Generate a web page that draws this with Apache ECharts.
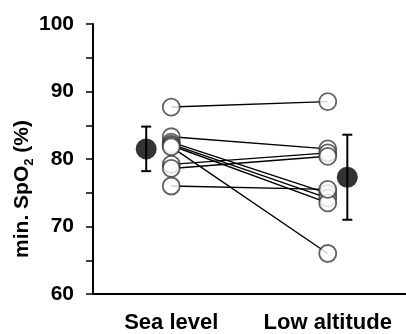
<!DOCTYPE html>
<html>
<head>
<meta charset="utf-8">
<script src="https://cdn.jsdelivr.net/npm/echarts@6/dist/echarts.min.js"></script>
<style>
  html, body { margin: 0; padding: 0; background: #fff; }
  #chart { width: 406px; height: 334px; }
</style>
</head>
<body>
<div id="chart"></div>
<script>
// categories and per-subject values (min SpO2, %)
var categories = ["Sea level", "Low altitude"];
var seaLevel = [87.7, 83.3, 82.5, 82.2, 82.0, 81.8, 79.2, 78.6, 76.0];
var lowAltitude = [88.5, 81.5, 74.9, 74.2, 73.5, 66.0, 80.9, 80.4, 75.5];
// group means and SD
var means = [81.5, 77.3];
var sds = [3.3, 6.3];
var meanPos = [0.84, 2.125]; // means drawn beside each column
var yTicks = [60, 70, 80, 90, 100];

var chart = echarts.init(document.getElementById("chart"), null, { renderer: "canvas" });

var font = "'Liberation Sans', Arial, sans-serif";
var series = [];

// one line per subject
for (var i = 0; i < seaLevel.length; i++) {
  series.push({
    type: "line",
    xAxisIndex: 1,
    data: [[1, seaLevel[i]], [2, lowAltitude[i]]],
    symbol: "none",
    lineStyle: { color: "#000", width: 1.4 },
    z: 2,
    silent: true
  });
}

// open circles for individual values
var pts = [];
for (var j = 0; j < seaLevel.length; j++) {
  pts.push([1, seaLevel[j]]);
  pts.push([2, lowAltitude[j]]);
}
series.push({
  type: "scatter",
  xAxisIndex: 1,
  data: pts,
  symbol: "circle",
  symbolSize: 17,
  itemStyle: {
    color: "#fff",
    borderColor: "#3a3a3a",
    borderWidth: 1.8
  },
  z: 3
});

// error bars (mean ± SD)
series.push({
  type: "custom",
  xAxisIndex: 1,
  data: means.map(function (m, k) { return [meanPos[k], m - sds[k], m + sds[k]]; }),
  renderItem: function (params, api) {
    var lo = api.coord([api.value(0), api.value(1)]);
    var hi = api.coord([api.value(0), api.value(2)]);
    var cw = 5;
    var st = { stroke: "#000", lineWidth: 2 };
    return {
      type: "group",
      children: [
        { type: "line", shape: { x1: lo[0], y1: lo[1], x2: hi[0], y2: hi[1] }, style: st },
        { type: "line", shape: { x1: lo[0] - cw, y1: lo[1], x2: lo[0] + cw, y2: lo[1] }, style: st },
        { type: "line", shape: { x1: hi[0] - cw, y1: hi[1], x2: hi[0] + cw, y2: hi[1] }, style: st }
      ]
    };
  },
  z: 4
});

// mean markers
series.push({
  type: "scatter",
  xAxisIndex: 1,
  data: means.map(function (m, k) { return [meanPos[k], m]; }),
  symbol: "circle",
  symbolSize: 21,
  itemStyle: { color: "#000" },
  z: 5
});

chart.setOption({
  animation: false,
  backgroundColor: "#fff",
  textStyle: { fontFamily: font },
  grid: { left: 93, right: -7, top: 24, bottom: 39 },
  xAxis: [
    {
      type: "category",
      data: categories,
      boundaryGap: true,
      axisLine: { lineStyle: { color: "#000", width: 2 } },
      axisTick: { inside: true, length: 4, alignWithLabel: true, lineStyle: { color: "#000", width: 1.5 } },
      axisLabel: { interval: 0, color: "#000", fontSize: 22, fontWeight: "bold", fontFamily: font, margin: 18 },
      splitLine: { show: false }
    },
    {
      type: "value",
      min: 0.5,
      max: 2.5,
      show: false
    }
  ],
  yAxis: {
    type: "value",
    min: 60,
    max: 100,
    interval: 5,
    axisLine: { show: true, lineStyle: { color: "#000", width: 2 } },
    axisTick: { show: true, length: 7, lineStyle: { color: "#000", width: 1.5 } },
    axisLabel: {
      color: "#000",
      fontSize: 21,
      fontWeight: "bold",
      fontFamily: font,
      margin: 19,
      formatter: function (v) { return yTicks.indexOf(v) >= 0 ? String(v) : ""; }
    },
    splitLine: { show: false }
  },
  graphic: [
    {
      type: "text",
      x: 21,
      y: 189,
      rotation: Math.PI / 2,
      style: {
        text: "{a|min. SpO}{b|2}{a| (%)}",
        align: "center",
        verticalAlign: "middle",
        rich: {
          a: { fontSize: 21, fontWeight: "bold", fontFamily: font, fill: "#000", lineHeight: 24, verticalAlign: "bottom" },
          b: { fontSize: 13, fontWeight: "bold", fontFamily: font, fill: "#000", lineHeight: 24, verticalAlign: "bottom", padding: [0, 0, -3, 0] }
        }
      }
    }
  ],
  series: series
});
</script>
</body>
</html>
